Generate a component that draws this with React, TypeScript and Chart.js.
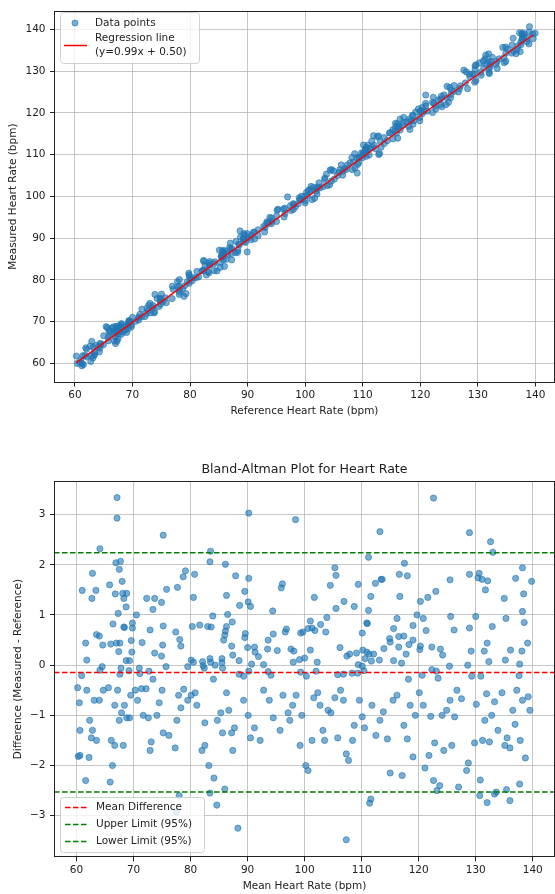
import React, { useEffect, useRef } from "react";
import { Chart, registerables } from "chart.js";
Chart.register(...registerables);

const FAMILY = "'DejaVu Sans', sans-serif";
const TEXT = "#222";
const GRID = "rgba(176,176,176,0.72)";
const POINT = "rgba(31,119,180,0.6)";

// ---- Bland-Altman data: mean of the two methods, difference (measured - reference) ----
const baMeanUpperLeft = [
  67.1, 67.1, 90.2, 98.4, 75.2, 64.1, 83.5, 83.4, 66.9, 67.7,
  67.5, 86.1, 62.8, 79.1, 78.7, 80.7, 87.9, 90.2, 68.0, 65.8,
  61.0, 63.4, 75.8, 77.7, 96.1, 95.9, 89.5, 66.8, 68.1, 68.8,
  68.3, 62.7, 72.3, 73.7, 74.9, 73.4, 80.5, 86.3, 90.1, 90.5,
  88.6, 68.7, 67.3, 70.5, 83.9, 86.5, 94.4, 66.4, 69.8, 68.3,
  68.4, 69.8, 75.2, 80.3, 81.6, 83.0, 83.6, 86.3, 87.3, 72.9,
  77.4, 86.1, 86.0, 89.6, 89.5, 96.8, 96.6, 94.5, 63.5, 64.0,
  78.1, 78.3, 85.8, 61.6, 66.0, 67.0, 67.6, 69.6, 71.5, 75.1,
  64.6, 87.2, 91.2, 67.4, 69.7, 73.7, 74.9, 87.4, 90.0, 91.3,
  91.9, 93.5, 95.2, 93.6, 97.6, 98.1, 61.8, 68.7, 69.3, 88.5,
  80.1, 80.5, 82.1, 83.4, 83.5, 85.5, 85.5, 92.8, 98.0, 64.5,
  64.1, 71.0, 72.7, 69.2, 67.8, 75.7, 79.5, 82.2, 82.4, 84.3,
  90.7, 90.2, 85.6, 60.9, 67.6, 71.1, 88.5, 93.6, 94.1, 73.4,
  84.0, 89.3,
];
const baDiffUpperLeft = [
  3.34, 2.93, 3.03, 2.90, 2.59, 2.32, 2.27, 2.06, 2.04, 2.07,
  1.91, 2.01, 1.83, 1.88, 1.76, 1.81, 1.78, 1.73, 1.67, 1.60,
  1.49, 1.49, 1.51, 1.55, 1.62, 1.54, 1.47, 1.42, 1.43, 1.43,
  1.33, 1.33, 1.33, 1.33, 1.25, 1.11, 1.35, 1.39, 1.26, 1.17,
  1.19, 1.16, 1.03, 1.00, 0.98, 1.01, 1.08, 0.82, 0.84, 0.76,
  0.75, 0.74, 0.78, 0.77, 0.80, 0.77, 0.76, 0.77, 0.86, 0.70,
  0.66, 0.68, 0.60, 0.63, 0.55, 0.72, 0.66, 0.62, 0.61, 0.58,
  0.51, 0.38, 0.50, 0.44, 0.42, 0.44, 0.44, 0.49, 0.45, 0.40,
  0.40, 0.38, 0.36, 0.27, 0.26, 0.24, 0.18, 0.20, 0.35, 0.26,
  0.17, 0.32, 0.29, 0.50, 0.32, 0.28, 0.10, 0.09, 0.09, 0.09,
  0.10, 0.06, 0.07, 0.13, 0.06, 0.13, 0.05, 0.01, 0.06, -0.03,
  -0.10, -0.06, -0.12, -0.11, -0.06, -0.03, -0.03, -0.01, -0.06, 0.00,
  0.02, -0.12, -0.06, -0.21, -0.18, -0.17, -0.18, -0.13, -0.20, -0.28,
  -0.28, -0.22,
];
const baMeanUpperRight = [
  122.6, 113.2, 128.9, 132.6, 133.0, 111.2, 105.3, 105.5, 117.5, 116.6,
  118.0, 113.6, 113.4, 128.9, 130.6, 130.4, 131.1, 132.1, 138.2, 137.0,
  139.8, 125.5, 104.5, 109.4, 112.4, 131.7, 101.7, 111.6, 116.7, 121.6,
  123.0, 120.3, 106.9, 108.7, 105.5, 111.2, 135.0, 138.4, 138.2, 119.7,
  120.8, 116.2, 103.9, 125.6, 130.0, 135.3, 138.5, 101.0, 102.8, 101.3,
  101.8, 100.6, 99.7, 99.3, 103.7, 110.9, 111.0, 119.0, 121.3, 126.2,
  128.9, 132.9, 115.6, 110.1, 114.9, 115.0, 116.5, 117.4, 119.0, 118.3,
  116.5, 113.9, 132.0, 139.1, 106.2, 120.3, 120.2, 122.3, 123.8, 124.2,
  136.1, 138.1, 129.2, 131.5, 101.0, 107.4, 107.9, 109.1, 110.2, 110.9,
  111.3, 112.1, 110.6, 111.7, 113.1, 117.8, 100.0, 99.1, 102.2, 109.4,
  110.1, 115.6, 117.0, 128.6, 132.3, 135.2, 137.7, 125.4, 122.3, 123.1,
  99.3, 102.0, 106.8, 105.8, 108.3, 109.3, 110.4, 120.6, 129.3, 130.9,
  137.6, 123.4, 118.2, 100.3,
];
const baDiffUpperRight = [
  3.33, 2.66, 2.64, 2.46, 2.25, 2.15, 1.94, 1.79, 2.03, 1.81,
  1.78, 1.71, 1.71, 1.81, 1.83, 1.74, 1.71, 1.68, 1.94, 1.73,
  1.67, 1.70, 1.59, 1.61, 1.63, 1.50, 1.35, 1.37, 1.37, 1.35,
  1.47, 1.27, 1.27, 1.17, 1.13, 1.09, 1.33, 1.42, 1.07, 1.00,
  0.93, 0.93, 0.95, 0.97, 0.97, 0.93, 0.85, 0.88, 0.81, 0.74,
  0.69, 0.73, 0.66, 0.64, 0.66, 0.84, 0.83, 0.79, 0.69, 0.70,
  0.74, 0.77, 0.73, 0.64, 0.53, 0.46, 0.57, 0.58, 0.50, 0.41,
  0.36, 0.33, 0.44, 0.44, 0.35, 0.38, 0.31, 0.36, 0.32, 0.20,
  0.30, 0.28, 0.28, 0.28, 0.30, 0.18, 0.22, 0.24, 0.30, 0.26,
  0.22, 0.22, 0.13, 0.08, 0.10, 0.22, 0.14, 0.11, 0.06, 0.01,
  -0.02, 0.09, 0.04, 0.00, 0.07, 0.10, 0.02, -0.02, -0.09, -0.12,
  -0.14, -0.12, -0.18, -0.19, -0.16, -0.16, -0.11, -0.20, -0.22, -0.22,
  -0.21, -0.26, -0.28, -0.22,
];
const baMeanLower = [
  60.2, 60.5, 60.6, 60.6, 60.3, 61.8, 62.2, 62.3, 62.8, 62.6,
  63.5, 63.1, 64.0, 64.7, 65.6, 66.1, 66.3, 65.9, 66.7, 66.7,
  67.2, 67.9, 67.5, 68.2, 68.8, 69.3, 68.4, 69.5, 61.6,
  70.3, 70.7, 71.4, 71.7, 72.2, 72.9, 73.1, 72.6, 74.1, 74.5,
  75.0, 75.2, 76.2, 77.3, 77.6, 77.9, 78.3, 78.8, 79.5, 78.0, 77.5,
  80.1, 80.8, 81.1, 82.0, 82.5, 82.5, 83.2, 83.4, 84.6, 84.1,
  84.7, 85.3, 85.6, 86.3, 86.7, 87.2, 87.4, 87.7, 88.3, 86.0,
  89.3, 90.1, 90.5, 91.2, 92.2, 92.8, 93.8, 94.5, 95.7, 96.2, 97.1, 97.4, 97.9, 98.5,
  99.2, 99.5, 100.2, 100.6, 101.3, 101.6, 102.3, 102.7, 103.2, 103.5,
  104.1, 104.6, 105.3, 105.8, 106.3, 106.8, 107.3, 107.7, 108.4, 108.7, 107.3,
  109.6, 110.1, 110.5, 111.4, 111.6, 111.8, 112.5, 113.2, 113.8, 114.5,
  115.0, 115.5, 116.2, 117.1, 117.4, 118.0, 118.5, 119.0, 119.4,
  120.1, 120.8, 121.1, 121.8, 122.1, 122.6, 122.8, 123.2, 123.7, 124.1,
  124.4, 124.9, 125.5, 125.8, 126.3, 126.7, 127.5, 128.4, 128.7, 127.0,
  129.8, 130.1, 130.7, 130.8, 131.2, 131.6, 131.9, 132.4, 132.0, 132.8,
  133.3, 133.6, 133.3, 133.9, 134.6, 135.1, 135.4, 135.5, 136.0, 136.0,
  136.5, 136.9, 137.2, 137.7, 137.8, 138.2, 138.7, 139.2, 139.5,
];
const baDiffLower = [
  -0.45, -0.75, -1.3, -1.8, -1.82, -0.5, -1.84, -1.1, -1.3, -1.45,
  -1.5, -0.7, -0.7, -0.5, -0.45, -1.5, -2.0, -2.33, -0.8, -1.6,
  -0.5, -0.95, -1.1, -1.6, -1.05, -1.05, -0.8, -0.6, -2.3,
  -0.5, -0.7, -0.47, -1.0, -0.47, -1.7, -1.53, -1.05, -1.0, -0.75,
  -0.5, -1.35, -1.4, -1.65, -1.1, -0.6, -0.85, -0.48, -0.7, -2.6, -2.93,
  -0.6, -0.55, -0.8, -1.7, -1.6, -1.15, -2.0, -2.55, -2.79, -2.25,
  -1.1, -0.95, -1.35, -0.55, -0.9, -1.35, -1.7, -1.25, -3.25, -2.47,
  -0.7, -1.0, -1.45, -1.25, -1.5, -0.5, -0.7, -1.05, -1.3, -0.6, -0.95, -1.1, -0.8, -0.6,
  -1.6, -1.0, -2.0, -2.1, -1.5, -0.65, -0.55, -0.8, -1.3, -1.5,
  -0.9, -0.95, -0.65, -1.45, -0.5, -0.7, -1.77, -1.9, -1.5, -1.2, -3.48,
  -0.7, -1.03, -1.25, -2.75, -2.67, -0.8, -1.4, -1.1, -0.93, -1.47,
  -2.15, -0.7, -0.6, -2.2, -1.2, -1.47, -0.8, -1.83, -1.0,
  -0.55, -0.8, -2.05, -1.8, -1.02, -2.3, -1.55, -2.5, -2.4, -1.0,
  -1.7, -0.9, -0.7, -1.6, -1.03, -0.5, -0.67, -2.1, -1.95, -2.43,
  -1.55, -0.78, -2.6, -2.29, -1.5, -1.1, -0.57, -1.53, -2.74, -1.0,
  -2.57, -2.53, -0.73, -1.3, -0.55, -1.6, -2.48, -1.45, -2.7, -1.65,
  -0.9, -1.18, -0.5, -2.37, -1.5, -0.7, -1.85, -0.63, -0.9,
];
const baMean = [...baMeanUpperLeft, ...baMeanUpperRight, ...baMeanLower];
const baDiff = [...baDiffUpperLeft, ...baDiffUpperRight, ...baDiffLower];

// Summary lines
const meanDiff = -0.145;
const upperLimit = 2.24;
const lowerLimit = -2.53;

// Regression
const regSlope = 0.99;
const regIntercept = 0.5;
const regXRange = [60.2, 139.6];

// Ticks
const hrTicks = [60, 70, 80, 90, 100, 110, 120, 130, 140];
const diffTicks = [-3, -2, -1, 0, 1, 2, 3];

// Reference / measured pairs recovered from the Bland-Altman pairs
const refValues = baMean.map((m, i) => m - baDiff[i] / 2);
const measValues = baMean.map((m, i) => m + baDiff[i] / 2);

const font = (size: number) => ({ family: FAMILY, size });
const minus = (v: any) => String(v).replace("-", "\u2212");

function framePlugin(drawLegend: (ctx: CanvasRenderingContext2D) => void) {
  return {
    id: "frameLegend",
    afterDatasetsDraw(chart: any) {
      const { ctx, chartArea: a } = chart;
      ctx.save();
      ctx.strokeStyle = "#222";
      ctx.lineWidth = 1;
      const l = Math.round(a.left) + 0.5;
      const t = Math.round(a.top) + 0.5;
      const r = Math.round(a.right) - 0.5;
      const b = Math.round(a.bottom) - 0.5;
      ctx.strokeRect(l, t, r - l, b - t);
      ctx.restore();
    },
    afterDraw(chart: any) {
      const ctx = chart.ctx as CanvasRenderingContext2D;
      ctx.save();
      drawLegend(ctx);
      ctx.restore();
    },
  };
}

function legendBox(ctx: CanvasRenderingContext2D, x: number, y: number, w: number, h: number) {
  ctx.beginPath();
  (ctx as any).roundRect(x, y, w, h, 3);
  ctx.fillStyle = "rgba(255,255,255,0.8)";
  ctx.fill();
  ctx.strokeStyle = "rgba(204,204,204,0.9)";
  ctx.lineWidth = 1;
  ctx.stroke();
  ctx.font = `10.5px ${FAMILY}`;
  ctx.textBaseline = "middle";
  ctx.textAlign = "left";
}

function drawTopLegend(ctx: CanvasRenderingContext2D) {
  legendBox(ctx, 60.5, 12.5, 139, 51);
  ctx.beginPath();
  ctx.arc(75, 23, 3.1, 0, Math.PI * 2);
  ctx.fillStyle = POINT;
  ctx.fill();
  ctx.strokeStyle = POINT;
  ctx.lineWidth = 1;
  ctx.stroke();
  ctx.fillStyle = TEXT;
  ctx.fillText("Data points", 95, 23);
  ctx.beginPath();
  ctx.moveTo(64, 45.5);
  ctx.lineTo(87, 45.5);
  ctx.strokeStyle = "red";
  ctx.lineWidth = 1.5;
  ctx.stroke();
  ctx.fillStyle = TEXT;
  ctx.fillText("Regression line", 95, 38.5);
  ctx.fillText("(y=0.99x + 0.50)", 95, 52);
}

function drawBottomLegend(ctx: CanvasRenderingContext2D) {
  legendBox(ctx, 60.5, 357.5, 144, 55);
  const rows: [string, string, number][] = [
    ["Mean Difference", "red", 367],
    ["Upper Limit (95%)", "green", 384],
    ["Lower Limit (95%)", "green", 401],
  ];
  for (const [label, color, y] of rows) {
    ctx.beginPath();
    ctx.setLineDash([5.5, 2.5]);
    ctx.moveTo(65, y + 0.5);
    ctx.lineTo(88, y + 0.5);
    ctx.strokeStyle = color;
    ctx.lineWidth = 1.5;
    ctx.stroke();
    ctx.setLineDash([]);
    ctx.fillStyle = TEXT;
    ctx.fillText(label, 96, y);
  }
}

function axis(opts: {
  min: number; max: number; ticks: number[]; title: string; size: number; horizontal: boolean; titlePad: number;
}) {
  return {
    type: "linear",
    min: opts.min,
    max: opts.max,
    afterBuildTicks: (s: any) => {
      s.ticks = opts.ticks.map((v) => ({ value: v }));
    },
    afterFit: (s: any) => {
      if (opts.horizontal) s.height = opts.size;
      else s.width = opts.size;
    },
    grid: { color: GRID, lineWidth: 1, drawTicks: true, tickLength: 4, tickColor: "#222", tickWidth: 1 },
    border: { display: false },
    ticks: {
      font: font(10.5),
      color: TEXT,
      padding: opts.horizontal ? 2.5 : 4.5,
      maxRotation: 0,
      autoSkip: false,
      callback: minus,
    },
    title: {
      display: true,
      text: opts.title,
      font: font(10.5),
      color: TEXT,
      padding: opts.horizontal ? { top: 0, bottom: opts.titlePad } : { top: opts.titlePad, bottom: 0 },
    },
  };
}

export default function App() {
  const topRef = useRef<HTMLCanvasElement>(null);
  const botRef = useRef<HTMLCanvasElement>(null);

  useEffect(() => {
    const topX = { min: 56.37, max: 143.4 };
    const topY = { min: 55.4, max: 144.44 };
    const baX = { min: 56.05, max: 143.9 };
    const baY = { min: -3.83, max: 3.67 };

    const top = new Chart(topRef.current!, {
      type: "scatter",
      data: {
        datasets: [
          {
            label: "Regression line",
            type: "line",
            data: regXRange.map((x) => ({ x, y: regSlope * x + regIntercept })),
            borderColor: "red",
            borderWidth: 1.5,
            pointRadius: 0,
            showLine: true,
            fill: false,
            order: 0,
          } as any,
          {
            label: "Data points",
            data: refValues.map((x, i) => ({ x, y: measValues[i] })),
            backgroundColor: POINT,
            borderColor: POINT,
            borderWidth: 1,
            pointRadius: 3.1,
            order: 1,
          },
        ],
      },
      options: {
        animation: false,
        responsive: false,
        events: [],
        layout: { padding: { top: 7.3, right: 2, left: 0, bottom: 0 } },
        plugins: { legend: { display: false }, tooltip: { enabled: false }, title: { display: false } },
        scales: {
          x: axis({ ...topX, ticks: hrTicks, title: "Reference Heart Rate (bpm)", size: 37.5, horizontal: true, titlePad: 2.7 }) as any,
          y: axis({ ...topY, ticks: hrTicks, title: "Measured Heart Rate (bpm)", size: 54, horizontal: false, titlePad: 6.7 }) as any,
        },
      },
      plugins: [framePlugin(drawTopLegend)],
    });

    const hLine = (y: number, color: string, label: string) =>
      ({
        label,
        type: "line",
        data: [
          { x: baX.min, y },
          { x: baX.max, y },
        ],
        borderColor: color,
        borderWidth: 1.5,
        borderDash: [5.5, 2.5],
        pointRadius: 0,
        showLine: true,
        fill: false,
        order: 0,
      } as any);

    const bot = new Chart(botRef.current!, {
      type: "scatter",
      data: {
        datasets: [
          hLine(meanDiff, "red", "Mean Difference"),
          hLine(upperLimit, "green", "Upper Limit (95%)"),
          hLine(lowerLimit, "green", "Lower Limit (95%)"),
          {
            label: "Differences",
            data: baMean.map((x, i) => ({ x, y: baDiff[i] })),
            backgroundColor: POINT,
            borderColor: POINT,
            borderWidth: 1,
            pointRadius: 3.1,
            order: 1,
          },
        ],
      },
      options: {
        animation: false,
        responsive: false,
        events: [],
        layout: { padding: { top: 0, right: 1, left: 0, bottom: 0 } },
        plugins: {
          legend: { display: false },
          tooltip: { enabled: false },
          title: {
            display: true,
            text: "Bland-Altman Plot for Heart Rate",
            font: { family: FAMILY, size: 12.6, weight: "normal" },
            color: TEXT,
            fullSize: false,
            padding: { top: 22.44, bottom: 3.44 },
          },
        },
        scales: {
          x: axis({ ...baX, ticks: hrTicks, title: "Mean Heart Rate (bpm)", size: 36.7, horizontal: true, titlePad: 1.2 }) as any,
          y: axis({ ...baY, ticks: diffTicks, title: "Difference (Measured - Reference)", size: 54, horizontal: false, titlePad: 11.7 }) as any,
        },
      },
      plugins: [framePlugin(drawBottomLegend)],
    });

    return () => {
      top.destroy();
      bot.destroy();
    };
  }, []);

  return (
    <div style={{ position: "absolute", left: 0, top: 0, width: 555, height: 894, overflow: "hidden", background: "#fff" }}>
      <canvas ref={topRef} width={560} height={420} style={{ position: "absolute", left: 0, top: 0, display: "block" }} />
      <canvas ref={botRef} width={560} height={454} style={{ position: "absolute", left: 0, top: 440, display: "block" }} />
    </div>
  );
}
